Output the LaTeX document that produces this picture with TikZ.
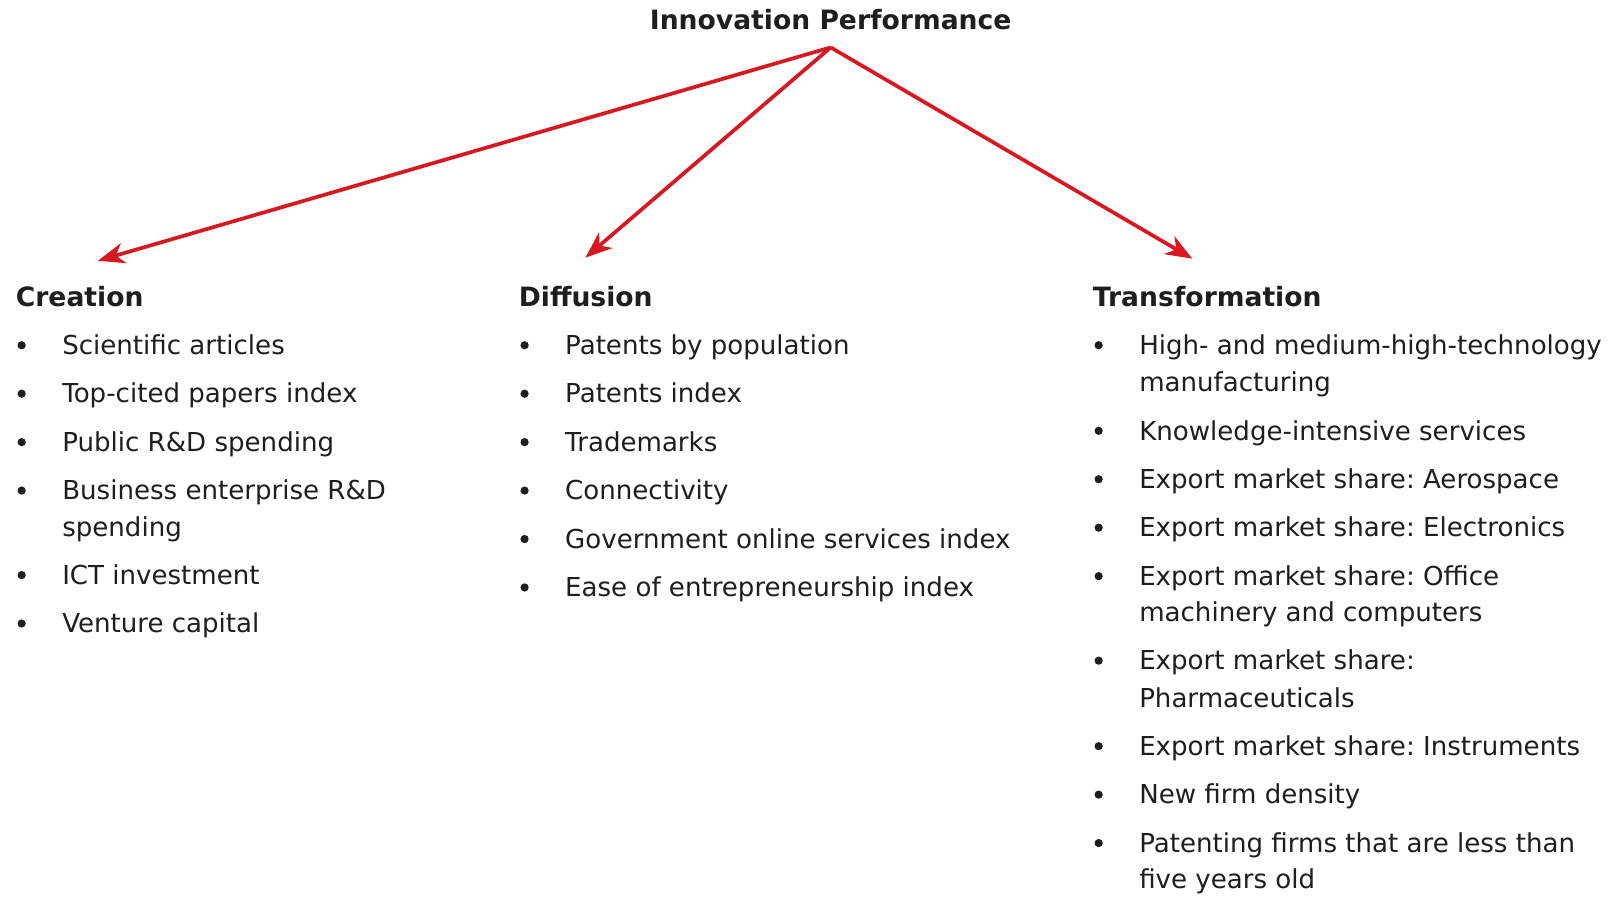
\documentclass[tikz,border=0pt]{standalone}
\usepackage{fontspec}
\setmainfont{DejaVu Sans}
\usetikzlibrary{arrows.meta}
\definecolor{arrred}{RGB}{215,24,32}
\definecolor{txt}{RGB}{30,30,30}
\frenchspacing
\tikzset{
  itm/.style={anchor=base west, inner sep=0pt, font=\fontsize{12.65pt}{18pt}\selectfont, text=txt},
  head/.style={anchor=base west, inner sep=0pt, font=\fontsize{12.9pt}{18pt}\selectfont\bfseries, text=txt},
  bul/.style={circle, fill=txt, inner sep=0pt, minimum size=4pt},
  conn/.style={draw=arrred, line width=1.8pt, -{Stealth[length=13pt, width=10pt, inset=4pt]}}
}
\begin{document}
\begin{tikzpicture}[x=0.5pt, y=-0.5pt]
\useasboundingbox (0,0) rectangle (1568,872.3);
% title
\node[head, anchor=base] (title) at (806,29) {Innovation Performance};
\coordinate (apex) at (806,46);
\coordinate (tipC) at (95,253);
\coordinate (tipD) at (568,250);
\coordinate (tipT) at (1157,251);
\draw[conn] (apex) -- (tipC);
\draw[conn] (apex) -- (tipD);
\draw[conn] (apex) -- (tipT);
% headings
\node[head] (hC) at (15,297) {Creation};
\node[head] (hD) at (503,297) {Diffusion};
\node[head] (hT) at (1060,297) {Transformation};
% Creation
\node[bul] (cb1) at (21,335) {}; \node[itm] (c1) at (60,344) {Scientific articles};
\node[bul] (cb2) at (21,382) {}; \node[itm] (c2) at (60,391) {Top-cited papers index};
\node[bul] (cb3) at (21,429) {}; \node[itm] (c3) at (60,438) {Public R\&D spending};
\node[bul] (cb4) at (21,476) {}; \node[itm] (c4) at (60,485) {Business enterprise R\&D};
\node[itm] (c4b) at (60,521) {spending};
\node[bul] (cb5) at (21,558) {}; \node[itm] (c5) at (60,567) {ICT investment};
\node[bul] (cb6) at (21,605) {}; \node[itm] (c6) at (60,614) {Venture capital};
% Diffusion
\node[bul] (db1) at (509,335) {}; \node[itm] (d1) at (548,344) {Patents by population};
\node[bul] (db2) at (509,382) {}; \node[itm] (d2) at (548,391) {Patents index};
\node[bul] (db3) at (509,429) {}; \node[itm] (d3) at (548,438) {Trademarks};
\node[bul] (db4) at (509,476) {}; \node[itm] (d4) at (548,485) {Connectivity};
\node[bul] (db5) at (509,523) {}; \node[itm] (d5) at (548,532) {Government online services index};
\node[bul] (db6) at (509,570) {}; \node[itm] (d6) at (548,579) {Ease of entrepreneurship index};
% Transformation
\node[bul] (tb1) at (1066,335) {}; \node[itm] (t1) at (1105,344) {High- and medium-high-technology};
\node[itm] (t1b) at (1105,380) {manufacturing};
\node[bul] (tb2) at (1066,418) {}; \node[itm] (t2) at (1105,427) {Knowledge-intensive services};
\node[bul] (tb3) at (1066,465) {}; \node[itm] (t3) at (1105,474) {Export market share: Aerospace};
\node[bul] (tb4) at (1066,512) {}; \node[itm] (t4) at (1105,521) {Export market share: Electronics};
\node[bul] (tb5) at (1066,559) {}; \node[itm] (t5) at (1105,568) {Export market share: Office};
\node[itm] (t5b) at (1105,603) {machinery and computers};
\node[bul] (tb6) at (1066,641) {}; \node[itm] (t6) at (1105,650) {Export market share:};
\node[itm] (t6b) at (1105,686) {Pharmaceuticals};
\node[bul] (tb7) at (1066,724) {}; \node[itm] (t7) at (1105,733) {Export market share: Instruments};
\node[bul] (tb8) at (1066,771) {}; \node[itm] (t8) at (1105,780) {New firm density};
\node[bul] (tb9) at (1066,818) {}; \node[itm] (t9) at (1105,827) {Patenting firms that are less than};
\node[itm] (t9b) at (1105,862) {five years old};
\end{tikzpicture}
\end{document}
